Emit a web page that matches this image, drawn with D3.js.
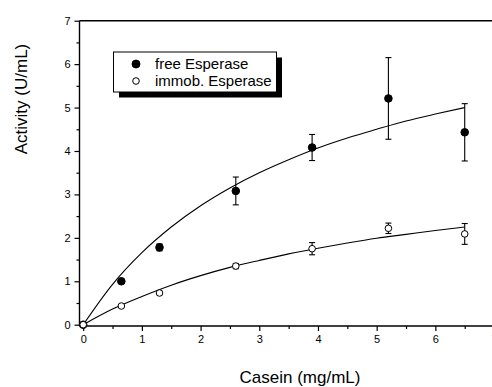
<!DOCTYPE html>
<meta charset="utf-8">
<script src="https://d3js.org/d3.v7.min.js"></script>
<style>
  body { margin: 0; background: #fff; }
  text { font-family: Arial, "Liberation Sans", sans-serif; fill: #000; }
</style>
<div id="my_dataviz"></div>
<script>

// casein concentrations (mg/mL)
var casein = [0, 0.65, 1.3, 2.6, 3.9, 5.2, 6.5];

// measured activities (U/mL) and their errors
var freeActivity = [0, 1.0, 1.78, 3.08, 4.08, 5.21, 4.43];
var freeError = [0, 0.04, 0.08, 0.32, 0.30, 0.94, 0.66];
var immobActivity = [0, 0.43, 0.73, 1.35, 1.75, 2.22, 2.09];
var immobError = [0, 0.03, 0.04, 0.06, 0.14, 0.12, 0.24];

// fitted curves
var fitX = [0, 0.5, 1, 1.5, 2, 2.5, 3, 3.5, 4, 4.5, 5, 5.5, 6, 6.5];
var freeFit = [0, 0.93, 1.66, 2.25, 2.74, 3.15, 3.50, 3.80, 4.07, 4.30, 4.50, 4.69, 4.85, 5.00];
var immobFit = [0, 0.36, 0.65, 0.91, 1.13, 1.32, 1.48, 1.63, 1.76, 1.88, 1.99, 2.08, 2.17, 2.25];

var xTicks = [0, 1, 2, 3, 4, 5, 6, 7];
var yTicks = [0, 1, 2, 3, 4, 5, 6, 7];
var legendLabels = ["free Esperase", "immob. Esperase"];

var width = 492, height = 387;

var svg = d3.select("#my_dataviz")
    .append("svg")
    .attr("width", width)
    .attr("height", height);

var x = d3.scaleLinear()
    .domain([-0.063, 7.2])
    .range([79.5, 505.8]);

var y = d3.scaleLinear()
    .domain([-0.03, 7])
    .range([326, 20.7]);

// x axis
var xAxis = svg.append("g")
    .attr("transform", "translate(0," + y(-0.03) + ")")
    .call(d3.axisBottom(x).tickValues(xTicks).tickFormat(d3.format("d")).tickSize(5).tickSizeOuter(0).tickPadding(4))
xAxis.select(".domain").remove()
xAxis.selectAll("text").style("font-size", "11px")
svg.append("g")
    .attr("transform", "translate(0," + y(-0.03) + ")")
    .call(d3.axisBottom(x).tickValues(d3.range(0.5, 7, 1)).tickSize(3).tickFormat(""))
    .select(".domain").remove()

// y axis
var yAxis = svg.append("g")
    .attr("transform", "translate(" + x(-0.063) + ",0)")
    .call(d3.axisLeft(y).tickValues(yTicks).tickFormat(d3.format("d")).tickSize(5).tickSizeOuter(0).tickPadding(4))
yAxis.select(".domain").remove()
yAxis.selectAll("text").style("font-size", "11px")
svg.append("g")
    .attr("transform", "translate(" + x(-0.063) + ",0)")
    .call(d3.axisLeft(y).tickValues(d3.range(0.5, 7, 1)).tickSize(3).tickFormat(""))
    .select(".domain").remove()

svg.selectAll(".tick line").attr("stroke", "#000").attr("stroke-width", 1.2)

// frame lines
svg.append("line")
    .attr("x1", x(-0.063)).attr("x2", width)
    .attr("y1", y(-0.03)).attr("y2", y(-0.03))
    .attr("stroke", "#000").attr("stroke-width", 1.4)
svg.append("line")
    .attr("x1", x(-0.063)).attr("x2", x(-0.063))
    .attr("y1", y(7)).attr("y2", y(-0.03))
    .attr("stroke", "#000").attr("stroke-width", 1.4)
svg.append("line")
    .attr("x1", x(-0.063)).attr("x2", width)
    .attr("y1", y(7)).attr("y2", y(7))
    .attr("stroke", "#000").attr("stroke-width", 1.4)

// fit lines
var line = d3.line()
    .x(function (d, i) { return x(fitX[i]); })
    .y(function (d) { return y(d); })
    .curve(d3.curveMonotoneX)

svg.append("path").datum(freeFit)
    .attr("d", line).attr("fill", "none").attr("stroke", "#000").attr("stroke-width", 1.1)
svg.append("path").datum(immobFit)
    .attr("d", line).attr("fill", "none").attr("stroke", "#000").attr("stroke-width", 1.1)

function drawSeries(vals, errs, filled) {
    var g = svg.append("g")
    var pts = casein.map(function (c, i) { return { c: c, v: vals[i], e: errs[i] }; })
    var eb = g.selectAll(".eb").data(pts.filter(function (d) { return d.e > 0; })).enter().append("g")
        .attr("stroke", "#000").attr("stroke-width", 1.1)
    eb.append("line")
        .attr("x1", function (d) { return x(d.c); }).attr("x2", function (d) { return x(d.c); })
        .attr("y1", function (d) { return y(d.v - d.e); }).attr("y2", function (d) { return y(d.v + d.e); })
    eb.append("line")
        .attr("x1", function (d) { return x(d.c) - 3; }).attr("x2", function (d) { return x(d.c) + 3; })
        .attr("y1", function (d) { return y(d.v + d.e); }).attr("y2", function (d) { return y(d.v + d.e); })
    eb.append("line")
        .attr("x1", function (d) { return x(d.c) - 3; }).attr("x2", function (d) { return x(d.c) + 3; })
        .attr("y1", function (d) { return y(d.v - d.e); }).attr("y2", function (d) { return y(d.v - d.e); })
    g.selectAll("circle").data(pts).enter().append("circle")
        .attr("cx", function (d) { return x(d.c); })
        .attr("cy", function (d) { return y(d.v); })
        .attr("r", filled ? 3.8 : 3.3)
        .attr("fill", filled ? "#000" : "#fff")
        .attr("stroke", "#000")
        .attr("stroke-width", 1)
}
drawSeries(freeActivity, freeError, true)
drawSeries(immobActivity, immobError, false)

// legend with drop shadow
var lg = svg.append("g")
lg.append("rect").attr("x", 119).attr("y", 57.5).attr("width", 163).attr("height", 40).attr("fill", "#000")
lg.append("rect").attr("x", 113.5).attr("y", 52).attr("width", 163).attr("height", 40)
    .attr("fill", "#fff").attr("stroke", "#000").attr("stroke-width", 1)
lg.selectAll("circle").data(legendLabels).enter().append("circle")
    .attr("cx", 136).attr("cy", function (d, i) { return 64 + i * 17; })
    .attr("r", function (d, i) { return i == 0 ? 4 : 3.3; })
    .attr("fill", function (d, i) { return i == 0 ? "#000" : "#fff"; })
    .attr("stroke", "#000")
lg.selectAll("text").data(legendLabels).enter().append("text")
    .attr("x", 155).attr("y", function (d, i) { return 69 + i * 17; })
    .style("font-size", "15px")
    .text(function (d) { return d; })

// axis titles
svg.append("text")
    .attr("text-anchor", "middle")
    .attr("x", 300).attr("y", 383)
    .style("font-size", "17px")
    .text("Casein (mg/mL)")

svg.append("text")
    .attr("text-anchor", "middle")
    .attr("transform", "translate(27,99) rotate(-90)")
    .style("font-size", "17px")
    .text("Activity (U/mL)")

</script>
